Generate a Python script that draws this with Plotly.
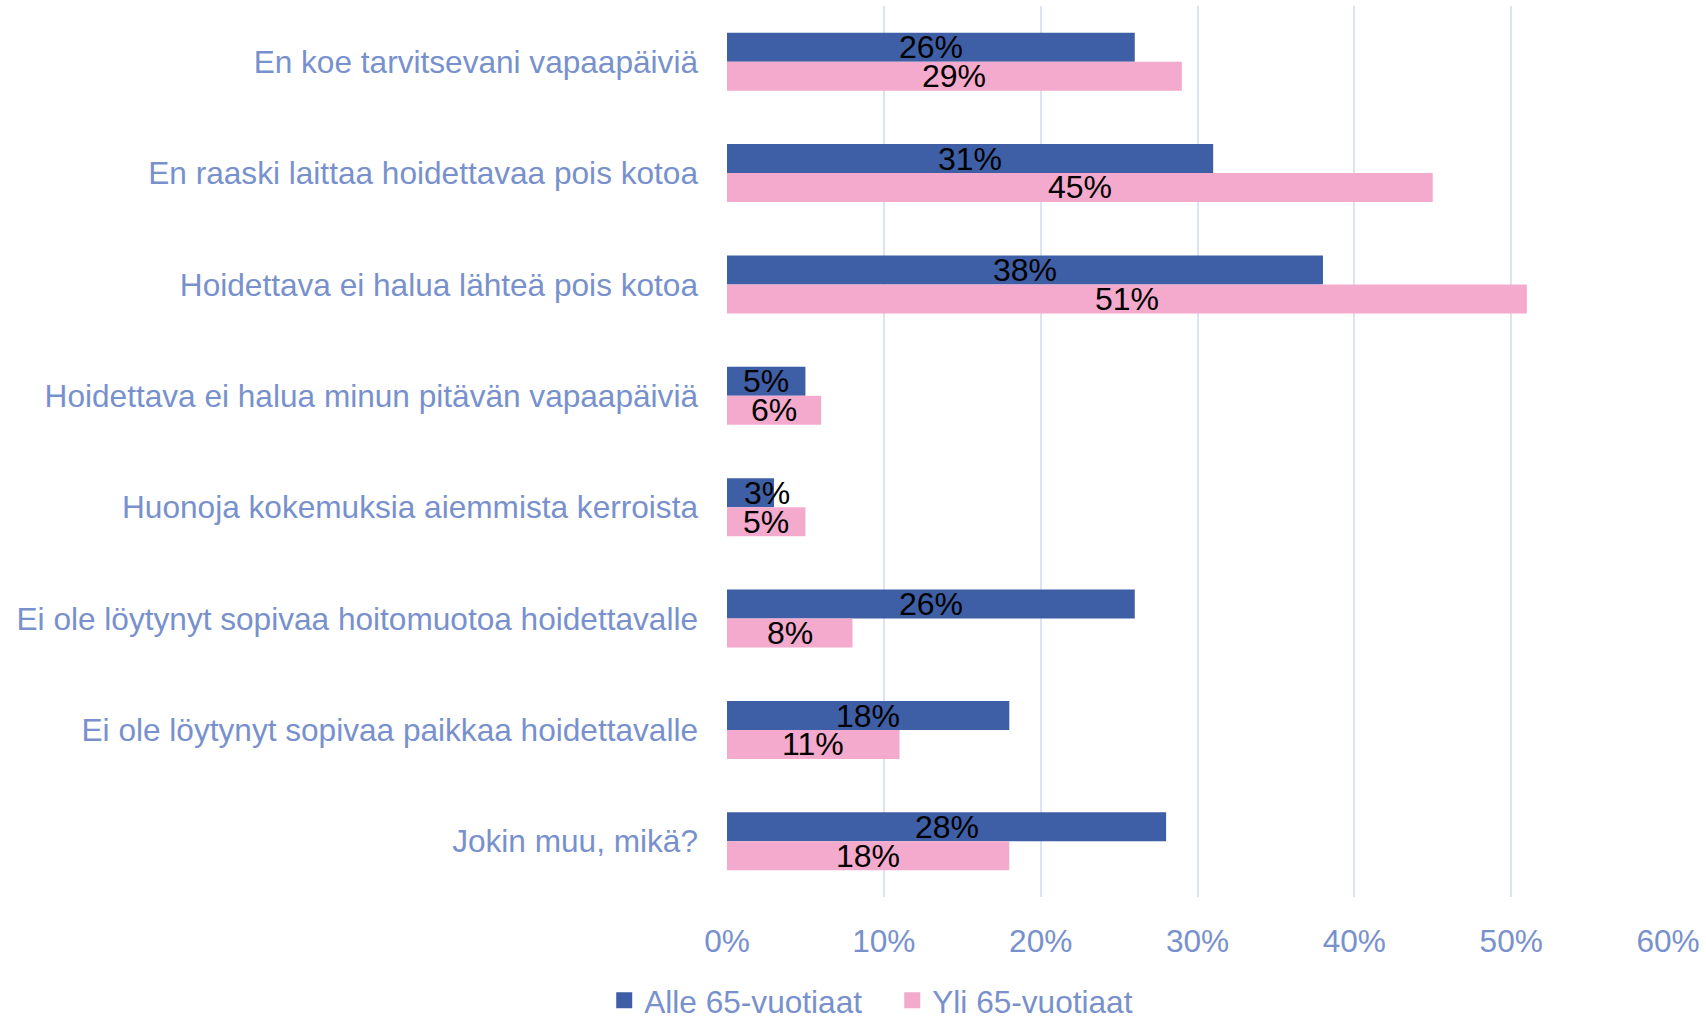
import plotly.graph_objects as go

categories = [
    "En koe tarvitsevani vapaapäiviä",
    "En raaski laittaa hoidettavaa pois kotoa",
    "Hoidettava ei halua lähteä pois kotoa",
    "Hoidettava ei halua minun pitävän vapaapäiviä",
    "Huonoja kokemuksia aiemmista kerroista",
    "Ei ole löytynyt sopivaa hoitomuotoa hoidettavalle",
    "Ei ole löytynyt sopivaa paikkaa hoidettavalle",
    "Jokin muu, mikä?",
]
alle_65 = [26, 31, 38, 5, 3, 26, 18, 28]
yli_65 = [29, 45, 51, 6, 5, 8, 11, 18]
series_names = ["Alle 65-vuotiaat", "Yli 65-vuotiaat"]
x_ticks = [0, 10, 20, 30, 40, 50, 60]
x_tick_labels = ["0%", "10%", "20%", "30%", "40%", "50%", "60%"]

BLUE = "#3E5FA6"
PINK = "#F4AACC"
LABEL = "#7891CD"
GRID = "#DCE3F2"
FONT = "Liberation Sans, Arial, sans-serif"
FS = 31.6

fig = go.Figure()
for vals, name, color in ((alle_65, series_names[0], BLUE), (yli_65, series_names[1], PINK)):
    fig.add_trace(go.Bar(y=categories, x=vals, name=name, orientation="h", showlegend=False,
                         marker=dict(color=color, line=dict(width=0))))
for name, color in zip(series_names, (BLUE, PINK)):
    fig.add_trace(go.Scatter(x=[None], y=[None], mode="markers", name=name, showlegend=True,
                             marker=dict(symbol="square", size=17, color=color)))

bar_half_px = 14.4
annotations = []
for vals, shift in ((alle_65, -bar_half_px), (yli_65, bar_half_px)):
    for cat, v in zip(categories, vals):
        if v < 5:
            ann = dict(x=0, xanchor="left", xshift=15)
        else:
            ann = dict(x=v / 2, xanchor="center")
        ann.update(y=cat, yshift=-shift, yanchor="middle", text=f"{v}%", showarrow=False,
                   font=dict(family=FONT, size=32, color="black"), xref="x", yref="y")
        annotations.append(ann)

fig.update_layout(
    width=1706, height=1016,
    margin=dict(l=727, r=36, t=6, b=119),
    paper_bgcolor="white", plot_bgcolor="white",
    barmode="group", bargap=0.48, bargroupgap=0,
    font=dict(family=FONT, size=FS, color=LABEL),
    annotations=annotations,
    legend=dict(orientation="h", xref="container", yref="container",
                x=0.523, xanchor="center", y=0.015, yanchor="middle",
                font=dict(family=FONT, size=FS, color=LABEL),
                itemwidth=30, entrywidth=243, traceorder="normal"),
    showlegend=True,
)
fig.update_xaxes(range=[0, 60], tickvals=x_ticks, ticktext=x_tick_labels,
                 showgrid=True, gridcolor=GRID, gridwidth=2, zeroline=False,
                 showline=False, ticks="", ticklabelstandoff=22,
                 tickfont=dict(family=FONT, size=FS, color=LABEL))
fig.update_yaxes(autorange="reversed", showgrid=False, showline=False, ticks="",
                 ticklabelstandoff=28, tickfont=dict(family=FONT, size=FS, color=LABEL))

fig.write_html("out.html", config={"displayModeBar": False},
               post_script="document.body.style.margin='0';document.body.style.overflow='hidden';")
